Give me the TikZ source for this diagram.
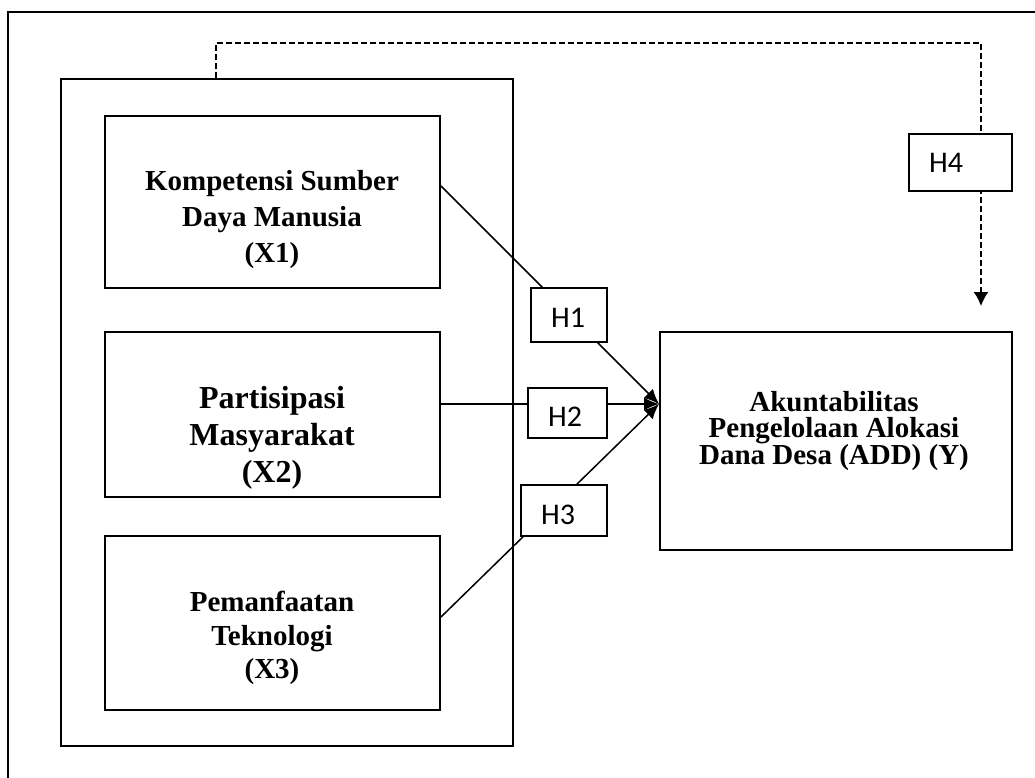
\documentclass[tikz,border=0pt]{standalone}
\usepackage{fontspec}
\setmainfont{Liberation Serif}
\newfontfamily\hfont{Carlito}
\usetikzlibrary{arrows.meta,calc}
\newcommand\tightlines{\lineskiplimit=-20pt\relax\lineskip=0pt\relax}

\begin{document}
\begin{tikzpicture}[x=1pt,y=-1pt,
  box/.style={draw,line width=1.9pt,fill=white,inner sep=0pt},
  hbox/.style={draw,line width=1.7pt,fill=white,inner sep=0pt},
  vartext/.style={align=center,inner sep=0pt,font=\bfseries},
  hlab/.style={inner sep=0pt,font=\hfont\fontsize{30}{33}\selectfont},
  link/.style={line width=1.5pt},
  tip/.style={-{Latex[length=15pt,width=13pt]}}
]
\useasboundingbox (0,0) rectangle (1035,778);

% outer frame
\coordinate (fbl) at (8,778);
\coordinate (ftl) at (8,12);
\coordinate (ftr) at (1035,12);
\draw[line width=2pt] (fbl) -- (ftl) -- (ftr);

% group of independent variables
\node[box,minimum width=452pt,minimum height=667pt] (grp) at (287,412.5) {};
\node[box,minimum width=335pt,minimum height=172pt] (x1) at (272.5,202) {};
\node[box,minimum width=335pt,minimum height=165pt] (x2) at (272.5,414.5) {};
\node[box,minimum width=335pt,minimum height=174pt] (x3) at (272.5,623) {};

% dependent variable
\node[box,minimum width=352pt,minimum height=218pt] (y) at (836,441) {};

% meeting point of the three paths
\coordinate (meet) at (659,404);

% paths H1-H3
\draw[link,tip] ([yshift=16pt]x1.east) -- (meet);
\draw[link,tip] ([yshift=10.5pt]x2.east) -- (meet);
\draw[link,tip] ([yshift=6pt]x3.east) -- (meet);

% simultaneous path H4
\coordinate (d1) at (216,43);
\coordinate (d2) at (981,43);
\coordinate (d3) at (981,306);
\draw[link,dash pattern=on 6pt off 3pt,-{Latex[length=14pt,width=15pt]}]
  ([xshift=-71pt]grp.north) -- (d1) -- (d2) -- (d3);

% hypothesis boxes
\node[hbox,minimum width=76pt,minimum height=54pt] (h1) at (569,315) {};
\node[hbox,minimum width=79pt,minimum height=50pt] (h2) at (567.5,413) {};
\node[hbox,minimum width=86pt,minimum height=51pt] (h3) at (564,510.5) {};
\node[hbox,minimum width=103pt,minimum height=57pt] (h4) at (960.5,162.5) {};

\node[hlab] (h1t) at (568,318) {H1};
\node[hlab] (h2t) at (565,417) {H2};
\node[hlab] (h3t) at (558,515) {H3};
\node[hlab] (h4t) at (946,163) {H4};

% variable labels
\node[vartext,font={\bfseries\fontsize{29}{36}\selectfont}] (x1t) at (272,220)
  {Kompetensi Sumber\\Daya Manusia\\(X1)};
\node[vartext,font={\bfseries\fontsize{32}{37}\selectfont}] (x2t) at (272,437.5)
  {Partisipasi\\Masyarakat\\(X2)};
\node[vartext,font={\bfseries\fontsize{29}{33.5}\selectfont}] (x3t) at (272,638)
  {Pemanfaatan\\Teknologi\\(X3)};
\node[vartext,font={\bfseries\fontsize{29}{26.5}\selectfont\tightlines}] (yt) at (834,431)
  {Akuntabilitas\\Pengelolaan Alokasi\\Dana Desa (ADD) (Y)};
\end{tikzpicture}
\end{document}
